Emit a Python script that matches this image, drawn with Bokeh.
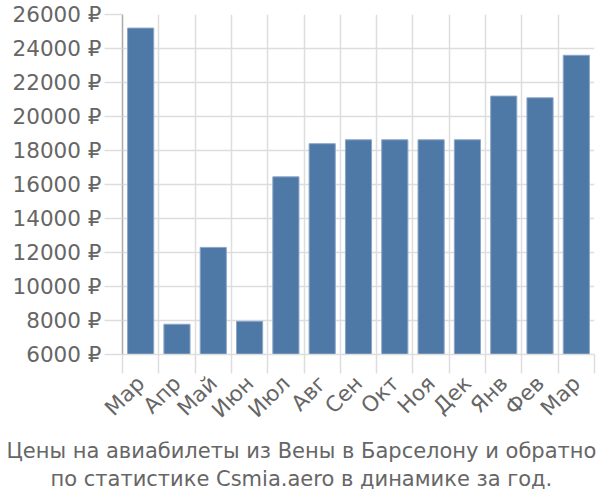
import math
from bokeh.plotting import figure
from bokeh.models import FixedTicker, Title, Range1d
from bokeh.embed import file_html
from bokeh.resources import INLINE

months = ["Мар", "Апр", "Май", "Июн", "Июл", "Авг", "Сен", "Окт", "Ноя", "Дек", "Янв", "Фев", "Мар"]
prices = [25200, 7780, 12300, 7950, 16450, 18400, 18630, 18630, 18630, 18630, 21200, 21100, 23600]
y_ticks = [6000, 8000, 10000, 12000, 14000, 16000, 18000, 20000, 22000, 24000, 26000]
title_lines = ["Цены на авиабилеты из Вены в Барселону и обратно",
               "по статистике Csmia.aero в динамике за год."]

FONT = "DejaVu Sans"
FS = "21.5px"
GRAY = "#666666"

n = len(months)
centers = [i + 0.5 for i in range(n)]
bounds = list(range(n + 1))

W, H = 600, 500
LEFT, RIGHT, TOP, BOTTOM = 122, 6, 14, 146

p = figure(width=W, height=H, output_backend="svg", toolbar_location=None,
           x_range=Range1d(0, n), y_range=Range1d(y_ticks[0], y_ticks[-1]),
           min_border_left=LEFT, min_border_right=RIGHT, min_border_top=TOP,
           min_border_bottom=BOTTOM)
p.outline_line_color = None
p.background_fill_color = "white"

p.vbar(x=centers, top=prices, bottom=y_ticks[0], width=0.72,
       fill_color="#4e78a6", line_color="#8aa6c8", line_width=1)

# grids
p.xgrid.ticker = FixedTicker(ticks=bounds)
p.xgrid.grid_line_color = "#dddddd"
p.xgrid.grid_line_width = 1.5
p.ygrid.ticker = FixedTicker(ticks=y_ticks)
p.ygrid.grid_line_color = "#dddddd"
p.ygrid.grid_line_width = 1.5

# y axis
ya = p.yaxis[0]
ya.ticker = FixedTicker(ticks=y_ticks)
ya.major_label_overrides = {t: f"{t} ₽" for t in y_ticks}
ya.major_label_text_font = FONT
ya.major_label_text_font_size = FS
ya.major_label_text_color = GRAY
ya.major_tick_out = 18
ya.major_tick_in = 0
ya.major_tick_line_color = "#dddddd"
ya.major_tick_line_width = 1.5
ya.minor_tick_line_color = None
ya.axis_line_color = "#aaaaaa"
ya.axis_line_width = 1.5
ya.major_label_standoff = 3

# x axis
xa = p.xaxis[0]
xa.ticker = FixedTicker(ticks=centers, minor_ticks=bounds)
xa.major_label_overrides = {c: m for c, m in zip(centers, months)}
xa.major_label_orientation = math.pi / 4
xa.major_label_text_font = FONT
xa.major_label_text_font_size = FS
xa.major_label_text_color = GRAY
xa.major_tick_out = 0
xa.major_tick_in = 0
xa.major_tick_line_color = None
xa.minor_tick_out = 19
xa.minor_tick_in = 0
xa.minor_tick_line_color = "#dddddd"
xa.minor_tick_line_width = 1.5
xa.axis_line_color = "#dddddd"
xa.axis_line_width = 1.5
xa.major_label_standoff = 6

# two-line caption, centred on the canvas: left-aligned with a (negative) margin
# so that each line's centre falls on the canvas centre
left_edges = [6, 50]
standoffs = [4, 0]
line_heights = [1.0, 0.85]
for line, lx, so, lh in zip(title_lines, left_edges, standoffs, line_heights):
    p.add_layout(Title(text=line, align="left", offset=lx - LEFT,
                       text_font=FONT, text_font_size="21px", text_font_style="normal",
                       text_color=GRAY, standoff=so, text_line_height=lh), "below")

open("out.html", "w").write(file_html(p, INLINE))
